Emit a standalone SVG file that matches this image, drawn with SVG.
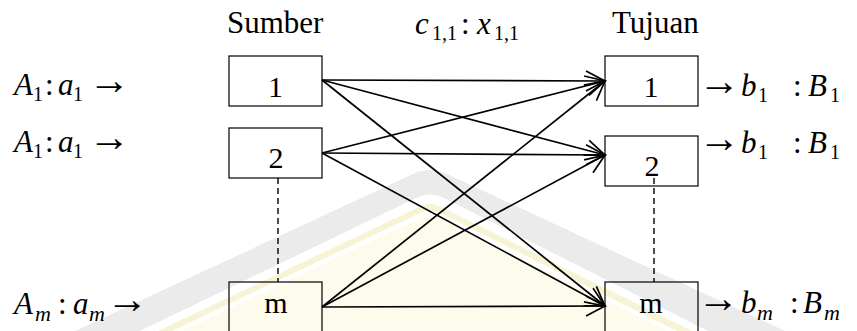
<svg xmlns="http://www.w3.org/2000/svg" width="857" height="331" viewBox="0 0 857 331">
<style>
  .box{fill:none;stroke:#000;stroke-width:1.2}
  .hd{font-family:"Liberation Serif",serif;font-size:31px;fill:#000}
  .num{font-family:"Liberation Serif",serif;font-size:30px;fill:#000;text-anchor:middle}
  .lbl{font-family:"Liberation Serif",serif;fill:#000}
  .mi{font-style:italic;font-size:31px}
  .mu{font-size:31px}
  .ar{font-size:42px}
  .sub{font-size:20px}
  .subi{font-style:italic;font-size:22px}
  .edge{stroke:#000;stroke-width:1.7;fill:none;marker-end:url(#arr)}
  .dash{stroke:#000;stroke-width:1.4;stroke-dasharray:6 4;fill:none}
</style>
<defs>
  <marker id="arr" markerUnits="userSpaceOnUse" markerWidth="26" markerHeight="26" viewBox="-22 -13 26 26" refX="0" refY="0" orient="auto">
    <path d="M-19,-10 L0,0 L-19,10" fill="none" stroke="#000" stroke-width="1.7"/>
  </marker>
</defs>
<rect width="857" height="331" fill="#fff"/>
<g id="watermark">
  <path d="M75,331 L413,174 Q430,166 447,174 L785,331 L708,331 L444,198 Q430,191 416,198 L140,331 Z" fill="#ebebeb"/>
  <path d="M158,331 L419,207 Q430,201 441,207 L692,331 L677,331 L440,213 Q430,208 420,213 L172,331 Z" fill="#f8f3d4"/>
  <path d="M182,331 L423,217 Q430,213 437,217 L668,331 Z" fill="#fdfcec"/>
</g>
<g id="headers">
  <text class="hd" x="227" y="33">Sumber</text>
  <text class="hd" x="612" y="33">Tujuan</text>
  <text class="lbl"><tspan class="mi" x="415" y="34">c</tspan><tspan class="sub" x="432" y="40">1,1</tspan><tspan class="mu" x="461" y="34">:</tspan><tspan class="mi" x="477" y="34">x</tspan><tspan class="sub" x="494" y="40">1,1</tspan></text>
</g>
<g id="connectors">
  <line class="edge" x1="322" y1="80" x2="605" y2="81"/>
  <line class="edge" x1="322" y1="80" x2="605" y2="155"/>
  <line class="edge" x1="322" y1="80" x2="605" y2="306"/>
  <line class="edge" x1="322" y1="153" x2="605" y2="81"/>
  <line class="edge" x1="322" y1="153" x2="605" y2="155"/>
  <line class="edge" x1="322" y1="153" x2="605" y2="306"/>
  <line class="edge" x1="322" y1="307" x2="605" y2="81"/>
  <line class="edge" x1="322" y1="307" x2="605" y2="155"/>
  <line class="edge" x1="322" y1="307" x2="605" y2="306"/>
  <line class="dash" x1="278" y1="178" x2="278" y2="282"/>
  <line class="dash" x1="654" y1="178" x2="654" y2="282"/>
</g>
<g id="src1">
  <rect class="box" x="229" y="56" width="93" height="50"/>
  <text class="num" x="275.5" y="97">1</text>
  <text class="lbl"><tspan class="mi" x="14" y="95">A</tspan><tspan class="sub" x="33" y="101">1</tspan><tspan class="mu" x="45" y="95">:</tspan><tspan class="mi" x="58" y="95">a</tspan><tspan class="sub" x="73" y="101">1</tspan><tspan class="ar" x="88" y="94">→</tspan></text>
</g>
<g id="src2">
  <rect class="box" x="229" y="128" width="93" height="50"/>
  <text class="num" x="276" y="168">2</text>
  <text class="lbl"><tspan class="mi" x="14" y="152">A</tspan><tspan class="sub" x="33" y="158">1</tspan><tspan class="mu" x="45" y="152">:</tspan><tspan class="mi" x="58" y="152">a</tspan><tspan class="sub" x="73" y="158">1</tspan><tspan class="ar" x="88" y="151">→</tspan></text>
</g>
<g id="srcm">
  <rect class="box" x="229" y="282" width="93" height="60"/>
  <text class="num" x="276" y="313">m</text>
  <text class="lbl"><tspan class="mi" x="14" y="314">A</tspan><tspan class="subi" x="35" y="321">m</tspan><tspan class="mu" x="58" y="314">:</tspan><tspan class="mi" x="73" y="314">a</tspan><tspan class="subi" x="89" y="321">m</tspan><tspan class="ar" x="106" y="313">→</tspan></text>
</g>
<g id="dst1">
  <rect class="box" x="605" y="56" width="93" height="50"/>
  <text class="num" x="651" y="97">1</text>
  <text class="lbl"><tspan class="ar" x="698" y="95">→</tspan><tspan class="mi" x="741" y="96">b</tspan><tspan class="sub" x="758" y="102">1</tspan><tspan class="mu" x="793" y="96">:</tspan><tspan class="mi" x="808" y="96">B</tspan><tspan class="sub" x="830" y="102">1</tspan></text>
</g>
<g id="dst2">
  <rect class="box" x="605" y="136" width="93" height="50"/>
  <text class="num" x="652" y="176">2</text>
  <text class="lbl"><tspan class="ar" x="698" y="152">→</tspan><tspan class="mi" x="741" y="153">b</tspan><tspan class="sub" x="758" y="159">1</tspan><tspan class="mu" x="793" y="153">:</tspan><tspan class="mi" x="808" y="153">B</tspan><tspan class="sub" x="830" y="159">1</tspan></text>
</g>
<g id="dstm">
  <rect class="box" x="605" y="282" width="93" height="60"/>
  <text class="num" x="651" y="313">m</text>
  <text class="lbl"><tspan class="ar" x="697" y="312">→</tspan><tspan class="mi" x="741" y="313">b</tspan><tspan class="subi" x="757" y="320">m</tspan><tspan class="mu" x="790" y="313">:</tspan><tspan class="mi" x="803" y="313">B</tspan><tspan class="subi" x="824" y="320">m</tspan></text>
</g>
</svg>
